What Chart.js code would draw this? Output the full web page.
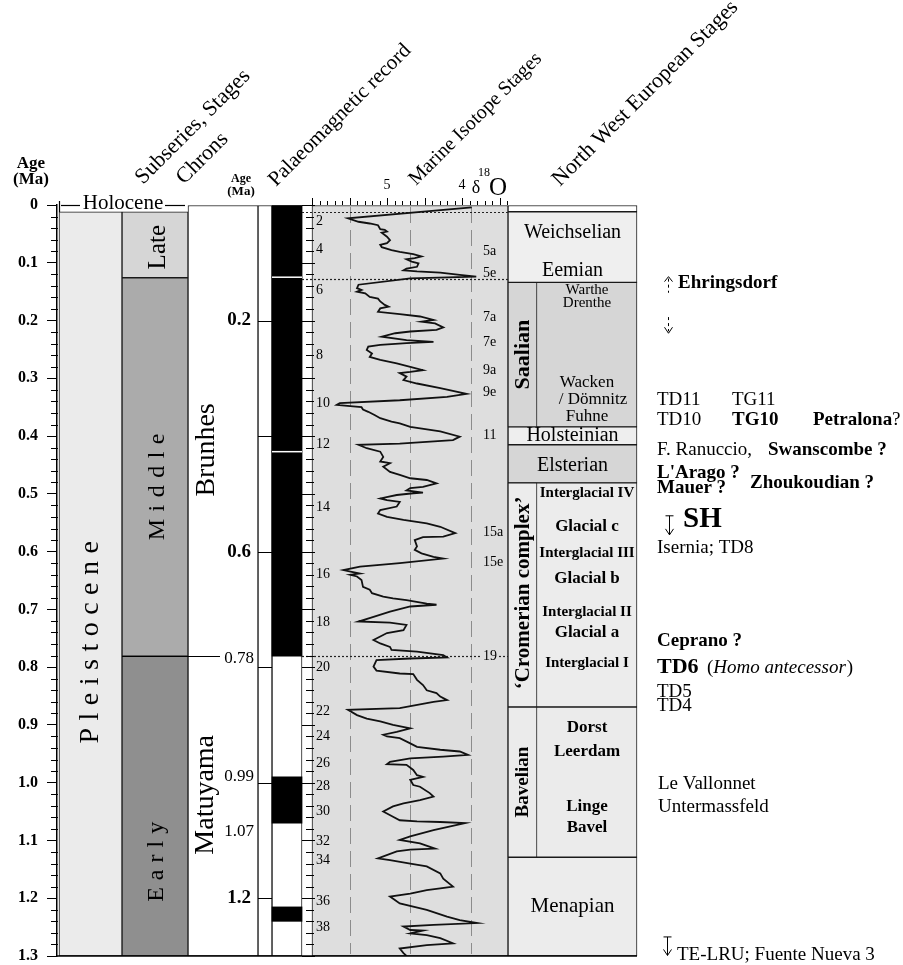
<!DOCTYPE html>
<html>
<head>
<meta charset="utf-8">
<title>Pleistocene chronology</title>
<script src="https://cdn.jsdelivr.net/npm/chart.js@4.4.1/dist/chart.umd.min.js"></script>
<style>
  html, body { margin: 0; padding: 0; background: #fff; }
  canvas { display: block; }
</style>
</head>
<body>
<canvas id="chart" width="903" height="965"></canvas>
<script>
'use strict';

// ---- data (ages in Ma, d18O in per mil) ----
const isoAge = [
  0.004,0.023,0.029,0.032,0.035,0.042,0.043,0.046,0.048,0.055,
  0.061,0.066,0.069,0.073,0.078,0.081,0.085,0.089,0.092,0.094,
  0.098,0.101,0.107,0.110,0.113,0.115,0.117,0.121,0.124,0.127,
  0.138,0.144,0.147,0.150,0.153,0.159,0.162,0.167,0.173,0.176,
  0.179,0.185,0.189,0.193,0.199,0.202,0.205,0.212,0.216,0.219,
  0.222,0.228,0.234,0.237,0.239,0.242,0.245,0.251,0.257,0.263,
  0.268,0.271,0.274,0.280,0.286,0.289,0.291,0.297,0.303,0.309,
  0.317,0.327,0.332,0.338,0.343,0.346,0.348,0.350,0.354,0.358,
  0.364,0.369,0.375,0.378,0.384,0.392,0.401,0.407,0.413,0.415,
  0.421,0.427,0.436,0.444,0.447,0.453,0.462,0.467,0.473,0.476,
  0.482,0.488,0.490,0.494,0.498,0.499,0.502,0.508,0.511,0.514,
  0.522,0.528,0.534,0.540,0.545,0.551,0.557,0.568,0.574,0.575,
  0.580,0.591,0.597,0.603,0.609,0.612,0.620,0.626,0.632,0.635,
  0.638,0.640,0.643,0.649,0.661,0.666,0.672,0.678,0.681,0.684,
  0.690,0.692,0.695,0.704,0.713,0.721,0.723,0.727,0.736,0.741,
  0.753,0.759,0.765,0.770,0.773,0.779,0.783,0.785,0.788,0.799,
  0.806,0.811,0.812,0.822,0.831,0.840,0.845,0.851,0.857,0.860,
  0.871,0.874,0.883,0.889,0.894,0.900,0.906,0.912,0.917,0.920,
  0.923,0.932,0.938,0.943,0.946,0.952,0.955,0.958,0.964,0.968,
  0.969,0.978,0.987,0.990,0.995,1.004,1.007,1.018,1.024,1.030,
  1.036,1.041,1.050,1.059,1.065,1.067,1.068,1.070,1.082,1.093,
  1.099,1.105,1.114,1.116,1.119,1.131,1.134,1.140,1.145,1.157,
  1.166,1.180,1.183,1.186,1.192,1.197,1.209,1.220,1.232,1.238,
  1.243,1.246,1.249,1.255,1.256,1.261,1.264,1.269,1.278,1.281,
  1.287,1.295,1.300
];
const isoD18O = [
  3.87,5.52,5.38,5.23,5.12,5.09,5.03,5.00,5.07,5.00,
  4.96,5.00,5.09,5.07,4.94,4.83,4.65,4.54,4.63,4.74,
  4.67,4.58,4.60,4.74,4.78,4.60,4.29,4.03,3.81,4.69,
  5.38,5.40,5.34,5.40,5.29,5.23,5.12,5.09,5.03,4.98,
  5.09,5.12,4.83,4.56,4.38,4.54,4.36,4.25,4.34,4.69,
  4.89,5.07,4.74,4.38,4.74,5.09,5.25,5.27,5.20,5.23,
  5.09,4.98,4.87,4.69,4.52,4.69,4.83,4.74,4.78,4.60,
  4.29,3.94,4.20,4.83,5.63,5.67,5.49,5.34,5.32,5.25,
  5.16,5.09,4.94,4.83,4.69,4.29,4.03,4.12,4.83,5.38,
  5.27,5.09,5.05,5.09,4.96,5.05,4.96,4.83,4.69,4.47,
  4.34,4.52,4.69,4.74,4.52,4.65,4.87,5.09,5.00,4.83,
  4.87,5.09,5.12,5.00,4.78,4.47,4.29,4.09,4.25,4.52,
  4.63,4.60,4.63,4.54,4.38,4.25,4.83,5.36,5.58,5.47,
  5.36,5.49,5.40,5.34,5.32,5.23,5.20,5.05,4.92,4.74,
  4.47,4.34,4.69,4.96,5.18,5.38,4.96,4.74,4.78,5.00,
  5.18,5.09,4.96,4.94,4.60,4.25,4.20,4.69,5.14,5.18,
  5.14,4.83,4.65,4.60,4.52,4.47,4.34,4.29,4.20,4.38,
  4.83,5.52,5.40,5.27,5.09,4.92,4.69,4.87,5.05,5.00,
  4.83,4.69,4.60,4.29,4.03,3.92,4.25,4.69,4.96,5.00,
  4.74,4.65,4.60,4.52,4.69,4.65,4.56,4.43,4.38,4.56,
  4.78,4.92,5.05,4.92,4.83,4.60,4.29,3.96,4.38,4.69,
  4.83,4.56,4.36,4.69,4.87,5.12,4.96,4.69,4.47,4.29,
  4.25,4.12,4.29,4.47,4.69,4.96,4.83,4.47,4.20,4.03,
  3.80,4.38,4.78,4.69,4.52,4.69,4.47,4.29,4.12,4.47,
  4.83,4.78,4.74
];

const misNumbers = ['2','4','6','8','10','12','14','16','18','20','22','24','26','28','30','32','34','36','38'];
const misAges = [0.029,0.076,0.147,0.260,0.343,0.415,0.524,0.639,0.722,0.801,0.876,0.919,0.966,1.007,1.049,1.102,1.134,1.205,1.250];
const subStages = ['5a','5e','7a','7e','9a','9e','11','15a','15e','19'];
const subStageAges = [0.080,0.118,0.194,0.237,0.286,0.324,0.398,0.566,0.618,0.782];
const d18OTickLabels = ['5','4'];
const d18OTickValues = [5, 4];
const d18OGrid = [5.5, 4.69, 3.88];
const boundaryAges = [0.0117, 0.128, 0.781];

const subseries = ['Late','Middle','Early'];
const subseriesTop = [0.0117, 0.126, 0.781];
const subseriesBase = [0.126, 0.781, 1.3];

const chrons = ['Brunhes','Matuyama'];
const chronTickAges = [0.2, 0.4, 0.6, 0.8, 1.0, 1.2];
const chronLabels = ['0.2','0.6','0.78','0.99','1.07','1.2'];
const chronLabelAges = [0.2, 0.6, 0.78, 0.99, 1.07, 1.2];
const normalTop = [0, 0.99, 1.215];
const normalBase = [0.781, 1.07, 1.24];
const magDividers = [0.125, 0.427];

const nwStages = ['', 'Weichselian', 'Saalian', 'Holsteinian', 'Elsterian', '\u2018Cromerian complex\u2019', 'Bavelian', 'Menapian'];
const nwStageTop = [0, 0.0117, 0.134, 0.384, 0.415, 0.481, 0.869, 1.129];
const nwStageBase = [0.0117, 0.134, 0.384, 0.415, 0.481, 0.869, 1.129, 1.3];
const nwSplit = ['Saalian', '\u2018Cromerian complex\u2019', 'Bavelian'];
const nwSubNames = ['Weichselian','Eemian','Warthe','Drenthe','Wacken','/ D\u00f6mnitz','Fuhne','Holsteinian','Elsterian',
  'Interglacial IV','Glacial c','Interglacial III','Glacial b','Interglacial II','Glacial a','Interglacial I',
  'Dorst','Leerdam','Linge','Bavel','Menapian'];
const nwSubAges = [0.048,0.114,0.147,0.170,0.308,0.336,0.367,0.400,0.452,
  0.499,0.557,0.602,0.646,0.705,0.741,0.793,
  0.904,0.947,1.042,1.078,1.215];

const siteNames = ['Ehringsdorf','TD11','TG11','TD10','TG10','Petralona','?','F. Ranuccio,','Swanscombe ?',
  'L\'Arago ?','Mauer ?','Zhoukoudian ?','SH','Isernia; TD8','Ceprano ?','TD6','Homo antecessor','TD5','TD4',
  'Le Vallonnet','Untermassfeld','TE-LRU; Fuente Nueva 3'];
const siteAges = [0.135,0.338,0.338,0.372,0.372,0.372,0.372,0.424,0.424,
  0.464,0.490,0.481,0.545,0.594,0.755,0.801,0.801,0.843,0.867,
  1.002,1.042,1.298];
// uncertain age ranges drawn as small arrows next to the site names
const rangeTop = [0.124, 0.194, 0.538, 1.267];
const rangeBase = [0.152, 0.222, 0.571, 1.299];

// ---- layout (pixels along the hidden x scale) ----
const SERIF = '"Liberation Serif", "DejaVu Serif", serif';
const col = {
  pleist: [59, 122], sub: [122, 188], chron: [188, 258], tick: [258, 272],
  mag: [272, 302], iso: [312, 508], nw: [508, 637], nwSub: [508, 537], nwMain: [537, 637]
};
const mid = r => (r[0] + r[1]) / 2;
const wid = r => r[1] - r[0];
const ISO_LEFT_VALUE = 6.0;
const ISO_PX_PER_UNIT = 75;
const PLOT_LEFT = 57, PLOT_RIGHT = 903;
const isoMax = ISO_LEFT_VALUE + (col.iso[0] - PLOT_LEFT) / ISO_PX_PER_UNIT;
const isoMin = isoMax - (PLOT_RIGHT - PLOT_LEFT) / ISO_PX_PER_UNIT;

const siteX = [678,657,732,657,732,813,892,657,768,657,657,750,683,657,657,657,707,657,657,658,658,677];
const siteFont = ['b','r','r','r','b','b','r','r','b','b','b','b','H','r','b','B','i','r','r','r','r','r'];
const rangeX = [668, 668, 669, 667];
const rangeKind = ['up', 'down', 'tee', 'tee'];

const nwSubFont = ['20px','20px','15px','15px','17px','17px','17px','20px','20px',
  'bold 15px','bold 17px','bold 15px','bold 17px','bold 15px','bold 17px','bold 15px',
  'bold 17px','bold 17px','bold 17px','bold 17px','21px'];

function bars(label, range, tops, bases, colors, order, border = 1) {
  return {
    type: 'bar', label, order, grouped: false,
    data: tops.map((t, i) => ({ x: mid(range), y: [t, bases[i]] })),
    backgroundColor: colors, borderColor: '#1a1a1a', borderWidth: border,
    borderSkipped: false, barThickness: wid(range)
  };
}

const splitIdx = nwSplit.map(n => nwStages.indexOf(n));
const nwColors = ['#ffffff','#efefef','#d6d6d6','#eeeeee','#d6d6d6','#ececec','#ebebeb','#ececec'];

const datasets = [
  {
    type: 'line', label: 'd18O', order: 1, xAxisID: 'xIso', yAxisID: 'y',
    data: isoAge.map((a, i) => ({ x: isoD18O[i], y: a })),
    borderColor: '#111', borderWidth: 1.8, pointRadius: 0, tension: 0, fill: false
  },
  bars('Pleistocene', col.pleist, [0.0117], [1.3], '#ebebeb', 10),
  bars('Subseries', col.sub, subseriesTop, subseriesBase, ['#d6d6d6', '#ababab', '#8f8f8f'], 10),
  bars('Chrons', col.chron, [0], [1.3], '#ffffff', 10),
  bars('Ticks', col.tick, [0], [1.3], '#ffffff', 10),
  bars('Polarity', col.mag, [0], [1.3], '#ffffff', 10),
  bars('Isotope panel', col.iso, [0], [1.3], '#dedede', 10),
  bars('NW stages', col.nw, nwStageTop, nwStageBase, nwColors, 10),
  bars('Normal', col.mag, normalTop, normalBase, '#000000', 9, 0),
  bars('NW split', col.nwSub, splitIdx.map(i => nwStageTop[i]), splitIdx.map(i => nwStageBase[i]),
    splitIdx.map(i => nwColors[i]), 9)
];

function line(ctx, x1, y1, x2, y2) {
  ctx.beginPath(); ctx.moveTo(x1, y1); ctx.lineTo(x2, y2); ctx.stroke();
}
function put(ctx, s, x, y, font, align = 'center', rot = 0) {
  ctx.save();
  ctx.translate(x, y);
  if (rot) ctx.rotate(rot);
  ctx.font = font; ctx.textAlign = align; ctx.textBaseline = 'middle'; ctx.fillStyle = '#000';
  ctx.fillText(s, 0, 0);
  ctx.restore();
  ctx.font = font;
  return ctx.measureText(s).width;
}
function spaced(ctx, s, x, y, font, gap) {
  ctx.save();
  ctx.translate(x, y); ctx.rotate(-Math.PI / 2);
  ctx.font = font; ctx.textAlign = 'left'; ctx.textBaseline = 'middle'; ctx.fillStyle = '#000';
  const ws = [...s].map(ch => ctx.measureText(ch).width);
  let pos = -(ws.reduce((a, b) => a + b, 0) + gap * (ws.length - 1)) / 2;
  [...s].forEach((ch, i) => { ctx.fillText(ch, pos, 0); pos += ws[i] + gap; });
  ctx.restore();
}
function header(ctx, s, x, y, size) {
  ctx.save();
  ctx.translate(x, y); ctx.rotate(-Math.PI / 4);
  ctx.font = size + 'px ' + SERIF; ctx.textAlign = 'left'; ctx.textBaseline = 'alphabetic';
  ctx.fillStyle = '#000'; ctx.fillText(s, 0, 0);
  ctx.restore();
}

const decor = {
  id: 'decor',
  beforeDatasetDraw(chart, args) {
    if (args.meta.type !== 'line') return;
    const { ctx } = chart;
    const Y = chart.scales.y, D = chart.scales.xIso;
    ctx.save();
    ctx.strokeStyle = '#8c8c8c'; ctx.lineWidth = 1; ctx.setLineDash([16, 7]);
    d18OGrid.forEach(v => {
      const x = Math.round(D.getPixelForValue(v)) + 0.5;
      line(ctx, x, Y.getPixelForValue(0) + 2, x, Y.getPixelForValue(1.3) - 2);
    });
    ctx.strokeStyle = '#222'; ctx.setLineDash([2, 2]); ctx.lineWidth = 1.2;
    boundaryAges.forEach(a => {
      const y = Math.round(Y.getPixelForValue(a)) + 0.5;
      const hit = subStageAges.findIndex(s => Math.abs(s - a) < 0.004);
      if (hit >= 0) {
        line(ctx, col.mag[1], y, 480, y);
        line(ctx, 499, y, col.iso[1], y);
      } else {
        line(ctx, col.mag[1], y, col.iso[1], y);
      }
    });
    ctx.restore();
  },
  afterDatasetsDraw(chart) {
    const { ctx } = chart;
    const X = chart.scales.x, Y = chart.scales.y, D = chart.scales.xIso;
    const px = v => X.getPixelForValue(v), py = a => Y.getPixelForValue(a);
    const top = py(0);
    ctx.save();
    ctx.strokeStyle = '#000'; ctx.fillStyle = '#000'; ctx.lineWidth = 1;

    // minor ticks on the age axis and on the isotope panel
    for (let i = 0; i <= 65; i++) {
      const y = Math.round(py(i * 0.02)) + 0.5;
      const major = i % 5 === 0;
      if (!major) line(ctx, PLOT_LEFT - 6, y, PLOT_LEFT + 1, y);
      line(ctx, px(col.iso[0]) - (major ? 10 : 6), y, px(col.iso[0]) + (major ? 3 : 2), y);
    }
    // d18O ticks on top of the isotope panel
    for (let i = 0; i <= 26; i++) {
      const x = Math.round(D.getPixelForValue(ISO_LEFT_VALUE - i * 0.1)) + 0.5;
      line(ctx, x, top - (i % 5 === 0 ? 7 : 4), x, top);
    }
    d18OTickValues.forEach((v, i) => put(ctx, d18OTickLabels[i], D.getPixelForValue(v), top - 20, '14px ' + SERIF));
    const dx = D.getPixelForValue(4);
    put(ctx, '\u03b4', dx + 14, top - 17, '18px ' + SERIF);
    put(ctx, '18', dx + 16, top - 32, '12px ' + SERIF, 'left');
    put(ctx, 'O', dx + 27, top - 17, '25px ' + SERIF, 'left');

    // Holocene strip
    put(ctx, 'Holocene', px(123), top - 2, '21px ' + SERIF);
    ctx.lineWidth = 1.2;
    line(ctx, px(61), top + 0.5, px(80), top + 0.5);
    line(ctx, px(165), top + 0.5, px(185), top + 0.5);
    line(ctx, px(59.5), top - 4, px(59.5), top + 7);
    ctx.lineWidth = 1;

    // epoch / subseries / chrons
    spaced(ctx, 'Pleistocene', px(91), py(0.757), '28px ' + SERIF, 7.5);
    put(ctx, subseries[0], px(158), py(0.073), '25px ' + SERIF, 'center', -Math.PI / 2);
    spaced(ctx, subseries[1], px(158), py(0.488), '24px ' + SERIF, 7.5);
    spaced(ctx, subseries[2], px(157), py(1.137), '24px ' + SERIF, 7);
    put(ctx, chrons[0], px(207), py(0.424), '28px ' + SERIF, 'center', -Math.PI / 2);
    put(ctx, chrons[1], px(206), py(1.021), '28px ' + SERIF, 'center', -Math.PI / 2);
    const y78 = Math.round(py(0.781)) + 0.5;
    line(ctx, px(col.sub[0]), y78, px(220), y78);

    chronTickAges.forEach(a => {
      const y = Math.round(py(a)) + 0.5;
      line(ctx, px(col.tick[0]), y, px(col.tick[1]), y);
    });
    const chronNudge = [0, 0, 3, 0, 8, 0];
    chronLabels.forEach((s, i) => {
      const bold = s.length === 3;
      put(ctx, s, px(bold ? 251 : 254), py(chronLabelAges[i]) + chronNudge[i],
        (bold ? 'bold 19px ' : '17px ') + SERIF, 'right');
    });
    ctx.strokeStyle = '#fff'; ctx.lineWidth = 1.5;
    magDividers.forEach(a => line(ctx, px(col.mag[0]), py(a), px(col.mag[1]), py(a)));
    ctx.strokeStyle = '#000'; ctx.lineWidth = 1;

    // isotope stage numbers
    misNumbers.forEach((s, i) => put(ctx, s, px(316), py(misAges[i]), '14px ' + SERIF, 'left'));
    subStages.forEach((s, i) => put(ctx, s, px(483), py(subStageAges[i]), '14px ' + SERIF, 'left'));

    // NW European stages
    splitIdx.forEach(i => {
      const size = i === 2 ? 22 : (i === 6 ? 19 : 21);
      put(ctx, nwStages[i], px(mid(col.nwSub)) + 1, py((nwStageTop[i] + nwStageBase[i]) / 2) + (i === 5 ? -2 : 0),
        'bold ' + size + 'px ' + SERIF, 'center', -Math.PI / 2);
    });
    nwSubNames.forEach((s, i) => {
      const inSplit = splitIdx.some(k => nwSubAges[i] > nwStageTop[k] && nwSubAges[i] < nwStageBase[k]);
      const cx = inSplit ? mid(col.nwMain) : mid(col.nw);
      put(ctx, s, px(cx + (s === '/ D\u00f6mnitz' ? 6 : 0)), py(nwSubAges[i]), nwSubFont[i] + ' ' + SERIF);
    });

    // hominin sites
    siteNames.forEach((s, i) => {
      const y = py(siteAges[i]);
      const k = siteFont[i];
      if (k === 'i') {
        let x = px(siteX[i]);
        x += put(ctx, '(', x, y, '19px ' + SERIF, 'left');
        x += put(ctx, s, x, y, 'italic 19px ' + SERIF, 'left') + 1;
        put(ctx, ')', x, y, '19px ' + SERIF, 'left');
        return;
      }
      const font = { r: '19px ', b: 'bold 19px ', B: 'bold 22px ', H: 'bold 29px ' }[k] + SERIF;
      put(ctx, s, px(siteX[i]), y, font, 'left');
    });
    ctx.lineWidth = 1;
    rangeTop.forEach((t, i) => {
      const x = Math.round(px(rangeX[i])) + 0.5, y1 = py(t), y2 = py(rangeBase[i]);
      ctx.setLineDash(rangeKind[i] === 'tee' ? [] : [3, 3]);
      line(ctx, x, y1 + (rangeKind[i] === 'up' ? 2 : 0), x, y2 - (rangeKind[i] === 'down' ? 2 : 0));
      ctx.setLineDash([]);
      if (rangeKind[i] === 'up') {
        line(ctx, x - 4, y1 + 5, x, y1); line(ctx, x, y1, x + 4, y1 + 5);
      } else {
        line(ctx, x - 4, y2 - 6, x, y2); line(ctx, x, y2, x + 4, y2 - 6);
        if (rangeKind[i] === 'tee') line(ctx, x - 4, y1, x + 4, y1);
      }
    });

    // bottom rule
    ctx.lineWidth = 1.5;
    line(ctx, px(PLOT_LEFT), py(1.3), px(col.nw[1]), py(1.3));

    // headers
    put(ctx, 'Age', 31, top - 41, 'bold 17px ' + SERIF);
    put(ctx, '(Ma)', 31, top - 25, 'bold 17px ' + SERIF);
    put(ctx, 'Age', px(241), top - 26, 'bold 12px ' + SERIF);
    put(ctx, '(Ma)', px(241), top - 13, 'bold 13px ' + SERIF);
    header(ctx, 'Subseries, Stages', px(143), top - 20, 22);
    header(ctx, 'Chrons', px(184), top - 20, 22);
    header(ctx, 'Palaeomagnetic record', px(276), top - 18, 21);
    header(ctx, 'Marine Isotope Stages', px(416), top - 19, 20);
    header(ctx, 'North West European Stages', px(560), top - 18, 22);
    ctx.restore();
  }
};

new Chart(document.getElementById('chart'), {
  type: 'bar',
  data: { datasets },
  options: {
    responsive: false,
    devicePixelRatio: 1,
    animation: false,
    events: [],
    layout: { padding: { left: 0, right: 0, top: 205, bottom: 9 } },
    plugins: { legend: { display: false }, tooltip: { enabled: false } },
    scales: {
      x: { type: 'linear', min: PLOT_LEFT, max: PLOT_RIGHT, display: false, offset: false },
      xIso: { type: 'linear', axis: 'x', min: isoMin, max: isoMax, reverse: true, display: false, offset: false },
      y: {
        type: 'linear', min: 0, max: 1.3, reverse: true, stacked: false,
        afterFit(scale) {
          scale.width = PLOT_LEFT;
          scale.paddingTop = 0; scale.paddingBottom = 0;
        },
        ticks: {
          stepSize: 0.1, padding: 9, color: '#000',
          font: { family: SERIF, size: 16, weight: 'bold' },
          callback: v => (Math.abs(v) < 1e-9 ? '0' : v.toFixed(1))
        },
        grid: { drawOnChartArea: false, drawTicks: true, tickLength: 10, color: '#000', lineWidth: 1 },
        border: { display: true, color: '#000', width: 1.5 }
      }
    }
  },
  plugins: [decor]
});
</script>
</body>
</html>
